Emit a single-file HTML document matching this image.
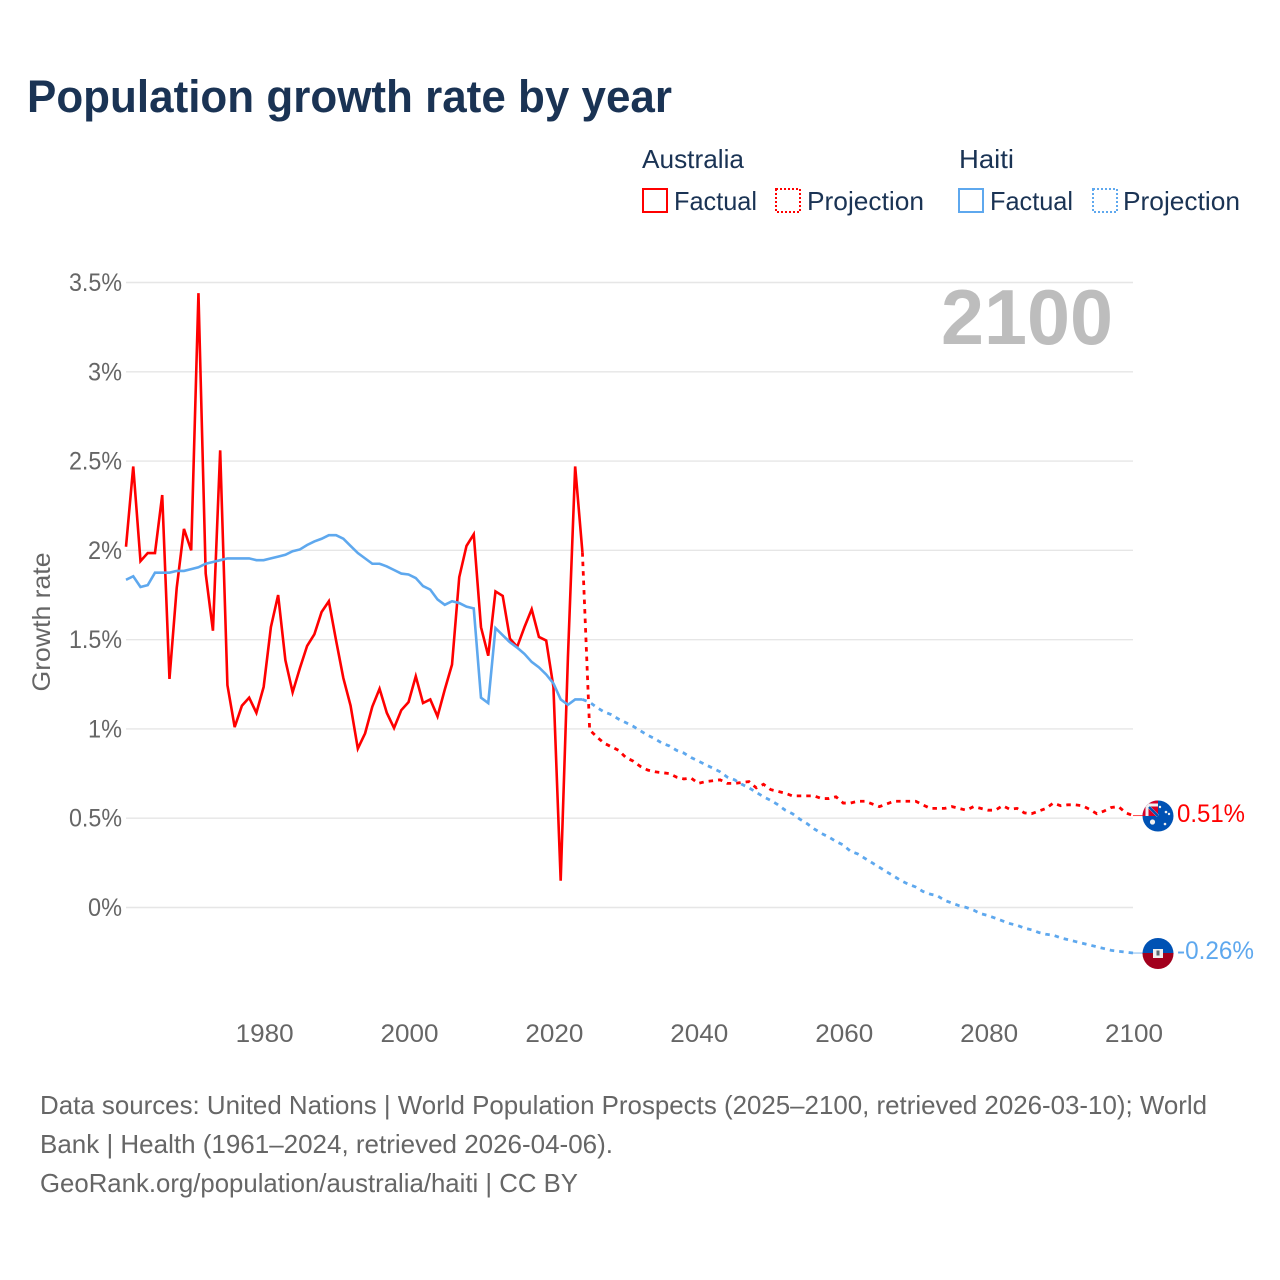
<!DOCTYPE html>
<html lang="en">
<head>
<meta charset="utf-8">
<title>Population growth rate by year</title>
<style>
  html, body { margin: 0; padding: 0; background: #fff; }
  svg { display: block; font-family: "Liberation Sans", sans-serif; }
</style>
</head>
<body>
<svg id="chart" xmlns="http://www.w3.org/2000/svg" width="1280" height="1280" viewBox="0 0 1280 1280">
  <rect x="0" y="0" width="1280" height="1280" fill="#ffffff"/>
  <text x="27" y="112" font-size="45" font-weight="bold" fill="#1a3354" textLength="645" lengthAdjust="spacingAndGlyphs">Population growth rate by year</text>

  <g font-size="26" fill="#1a3354">
    <text x="642" y="168" textLength="102" lengthAdjust="spacingAndGlyphs">Australia</text>
    <text x="959" y="168" textLength="55" lengthAdjust="spacingAndGlyphs">Haiti</text>
    <rect x="643" y="189" width="24" height="23" fill="none" stroke="#ff0000" stroke-width="2"/>
    <text x="674" y="210" textLength="83" lengthAdjust="spacingAndGlyphs">Factual</text>
    <rect x="776" y="189" width="24" height="23" fill="none" stroke="#ff0000" stroke-width="2" stroke-dasharray="2 2"/>
    <text x="807" y="210" textLength="117" lengthAdjust="spacingAndGlyphs">Projection</text>
    <rect x="959" y="189" width="24" height="23" fill="none" stroke="#5ea8ee" stroke-width="2"/>
    <text x="990" y="210" textLength="83" lengthAdjust="spacingAndGlyphs">Factual</text>
    <rect x="1093" y="189" width="24" height="23" fill="none" stroke="#5ea8ee" stroke-width="2" stroke-dasharray="2 2"/>
    <text x="1123" y="210" textLength="117" lengthAdjust="spacingAndGlyphs">Projection</text>
  </g>

  <g id="grid"></g>
  <g id="yticks"></g>
  <g id="xticks"></g>
  <text transform="translate(50,622) rotate(-90)" text-anchor="middle" font-size="25" fill="#666666" textLength="139" lengthAdjust="spacingAndGlyphs">Growth rate</text>
  <text x="941" y="344" font-size="78" font-weight="bold" fill="#bdbdbd" textLength="172" lengthAdjust="spacingAndGlyphs">2100</text>

  <g id="series"></g>

  <g>
    <clipPath id="clip-au"><circle cx="1158" cy="816" r="15.5"/></clipPath>
    <g clip-path="url(#clip-au)">
      <rect x="1142" y="800" width="32" height="32" fill="#0052b4"/>
      <rect x="1142" y="800" width="16" height="16" fill="#d80027"/>
      <path d="M1147 805 L1158 816 M1147 805 L1158 805 M1147 805 L1147 816" stroke="#f0f0f0" stroke-width="3" fill="none"/>
      <path d="M1149 807 L1158 816" stroke="#0052b4" stroke-width="2.5" fill="none"/>
      <circle cx="1152.5" cy="822" r="2.6" fill="#f0f0f0"/>
      <circle cx="1160" cy="807" r="1.2" fill="#f0f0f0"/>
      <circle cx="1166" cy="812" r="1.3" fill="#f0f0f0"/>
      <circle cx="1169" cy="814" r="1.2" fill="#f0f0f0"/>
      <circle cx="1165" cy="824" r="1.3" fill="#f0f0f0"/>
    </g>
  </g>
  <text x="1177" y="822" font-size="25" fill="#ff0000" textLength="68" lengthAdjust="spacingAndGlyphs">0.51%</text>

  <g>
    <clipPath id="clip-ht"><circle cx="1158" cy="953.5" r="15.5"/></clipPath>
    <g clip-path="url(#clip-ht)">
      <rect x="1142" y="937" width="32" height="17" fill="#0052b4"/>
      <rect x="1142" y="953" width="32" height="17" fill="#a2001d"/>
      <rect x="1153" y="949" width="10" height="9" fill="#f0f0f0"/>
      <rect x="1156.5" y="950.5" width="3" height="5" fill="#5a6a72"/>
    </g>
  </g>
  <text x="1177" y="959" font-size="25" fill="#5ea8ee" textLength="77" lengthAdjust="spacingAndGlyphs">-0.26%</text>

  <g font-size="26" fill="#666666">
    <text x="40" y="1114" textLength="1167" lengthAdjust="spacingAndGlyphs">Data sources: United Nations | World Population Prospects (2025–2100, retrieved 2026-03-10); World</text>
    <text x="40" y="1153" textLength="573" lengthAdjust="spacingAndGlyphs">Bank | Health (1961–2024, retrieved 2026-04-06).</text>
    <text x="40" y="1192" textLength="538" lengthAdjust="spacingAndGlyphs">GeoRank.org/population/australia/haiti | CC BY</text>
  </g>
</svg>

<script>
const australiaFactual = [
  2.02,2.47,1.94,1.985,1.985,2.31,1.28,1.79,2.12,2.0,
  3.44,1.87,1.55,2.56,1.245,1.01,1.13,1.175,1.09,1.235,
  1.57,1.75,1.385,1.205,1.34,1.465,1.53,1.655,1.715,1.495,
  1.285,1.13,0.89,0.975,1.125,1.225,1.09,1.005,1.105,1.15,
  1.295,1.145,1.165,1.07,1.22,1.36,1.85,2.025,2.09,1.57,
  1.41,1.77,1.745,1.505,1.46,1.57,1.67,1.515,1.495,1.235,
  0.15,1.4,2.47,1.99
];
const australiaProjection = [
  1.99,0.995,0.955,0.92,0.9,0.88,0.84,0.82,0.79,0.77,0.76,
  0.755,0.75,0.73,0.72,0.725,0.695,0.705,0.71,0.715,0.695,
  0.695,0.7,0.705,0.67,0.69,0.66,0.65,0.64,0.625,0.625,
  0.625,0.625,0.61,0.61,0.62,0.585,0.585,0.595,0.595,0.58,
  0.565,0.58,0.595,0.595,0.595,0.595,0.575,0.555,0.555,0.555,
  0.565,0.555,0.545,0.565,0.555,0.545,0.545,0.57,0.55,0.555,
  0.53,0.525,0.54,0.555,0.585,0.57,0.575,0.575,0.57,0.55,
  0.525,0.54,0.56,0.565,0.53,0.515
];
const haitiFactual = [
  1.835,1.855,1.795,1.805,1.875,1.875,1.875,1.885,1.885,1.895,
  1.905,1.925,1.935,1.945,1.955,1.955,1.955,1.955,1.945,1.945,
  1.955,1.965,1.975,1.995,2.005,2.03,2.05,2.065,2.085,2.085,
  2.065,2.025,1.985,1.955,1.925,1.925,1.91,1.89,1.87,1.865,
  1.845,1.8,1.78,1.725,1.695,1.715,1.705,1.685,1.675,1.175,
  1.145,1.565,1.525,1.485,1.455,1.42,1.375,1.345,1.305,1.255,
  1.165,1.135,1.165,1.165
];
const haitiProjection = [
  1.165,1.15,1.12,1.095,1.08,1.055,1.035,1.015,0.99,0.965,0.945,
  0.92,0.905,0.88,0.865,0.84,0.82,0.8,0.78,0.76,0.73,
  0.715,0.69,0.67,0.645,0.62,0.6,0.575,0.545,0.525,0.495,
  0.47,0.44,0.415,0.395,0.37,0.35,0.315,0.3,0.275,0.25,
  0.225,0.2,0.175,0.15,0.13,0.115,0.09,0.075,0.065,0.04,
  0.025,0.01,0,-0.015,-0.035,-0.045,-0.06,-0.075,-0.09,-0.1,
  -0.115,-0.125,-0.14,-0.15,-0.155,-0.17,-0.18,-0.19,-0.2,-0.21,
  -0.22,-0.23,-0.24,-0.245,-0.25,-0.255
];
const xTickYears = [1980, 2000, 2020, 2040, 2060, 2080, 2100];
const yTickValues = [0, 0.5, 1, 1.5, 2, 2.5, 3, 3.5];
const yTickLabels = ["0%", "0.5%", "1%", "1.5%", "2%", "2.5%", "3%", "3.5%"];

const SVG_NS = "http://www.w3.org/2000/svg";
const factualStartYear = 1961;
const projectionStartYear = 2024;
const xScale = year => 126 + (year - 1961) * (1007 / 139);
const yScale = pct => 907.5 - pct * (625 / 3.5);

const gridGroup = document.getElementById("grid");
const yTickGroup = document.getElementById("yticks");
const xTickGroup = document.getElementById("xticks");
const seriesGroup = document.getElementById("series");

yTickValues.forEach((value, i) => {
  const line = document.createElementNS(SVG_NS, "line");
  
  
  line.setAttribute("x1", 126);
  line.setAttribute("x2", 1133);
  line.setAttribute("y1", yScale(value));
  line.setAttribute("y2", yScale(value));
  line.setAttribute("stroke", "#e6e6e6");
  line.setAttribute("stroke-width", "1.4");
  gridGroup.appendChild(line);

  const label = document.createElementNS(SVG_NS, "text");
  
  
  label.setAttribute("x", 122);
  label.setAttribute("y", yScale(value) + 8.5);
  label.setAttribute("text-anchor", "end");
  label.setAttribute("font-size", "25");
  label.setAttribute("fill", "#666666");
  label.setAttribute("textLength", yTickLabels[i].length > 2 ? 53 : 34);
  label.setAttribute("lengthAdjust", "spacingAndGlyphs");
  label.textContent = yTickLabels[i];
  yTickGroup.appendChild(label);
});

xTickYears.forEach(year => {
  const label = document.createElementNS(SVG_NS, "text");
  
  
  label.setAttribute("x", xScale(year) + 1);
  label.setAttribute("y", 1042);
  label.setAttribute("text-anchor", "middle");
  label.setAttribute("font-size", "25");
  label.setAttribute("fill", "#666666");
  label.setAttribute("textLength", 58);
  label.setAttribute("lengthAdjust", "spacingAndGlyphs");
  label.textContent = String(year);
  xTickGroup.appendChild(label);
});

function pointsFor(values, startYear) {
  return values.map((v, i) => xScale(startYear + i).toFixed(2) + "," + yScale(v).toFixed(2)).join(" ");
}

const australiaFactualLine = document.createElementNS(SVG_NS, "polyline");


australiaFactualLine.setAttribute("points", pointsFor(australiaFactual, factualStartYear));
australiaFactualLine.setAttribute("fill", "none");
australiaFactualLine.setAttribute("stroke", "#ff0000");
australiaFactualLine.setAttribute("stroke-width", "2.6");
seriesGroup.appendChild(australiaFactualLine);

const australiaProjectionLine = document.createElementNS(SVG_NS, "polyline");


australiaProjectionLine.setAttribute("points", pointsFor(australiaProjection, projectionStartYear));
australiaProjectionLine.setAttribute("fill", "none");
australiaProjectionLine.setAttribute("stroke", "#ff0000");
australiaProjectionLine.setAttribute("stroke-width", "2.8");
australiaProjectionLine.setAttribute("stroke-dasharray", "4.5 5");
seriesGroup.appendChild(australiaProjectionLine);

const haitiFactualLine = document.createElementNS(SVG_NS, "polyline");


haitiFactualLine.setAttribute("points", pointsFor(haitiFactual, factualStartYear));
haitiFactualLine.setAttribute("fill", "none");
haitiFactualLine.setAttribute("stroke", "#5ea8ee");
haitiFactualLine.setAttribute("stroke-width", "2.6");
seriesGroup.appendChild(haitiFactualLine);

const haitiProjectionLine = document.createElementNS(SVG_NS, "polyline");


haitiProjectionLine.setAttribute("points", pointsFor(haitiProjection, projectionStartYear));
haitiProjectionLine.setAttribute("fill", "none");
haitiProjectionLine.setAttribute("stroke", "#5ea8ee");
haitiProjectionLine.setAttribute("stroke-width", "2.8");
haitiProjectionLine.setAttribute("stroke-dasharray", "4.5 5");
seriesGroup.appendChild(haitiProjectionLine);

const australiaLeader = document.createElementNS(SVG_NS, "line");


australiaLeader.setAttribute("x1", xScale(2100));
australiaLeader.setAttribute("x2", 1143);
australiaLeader.setAttribute("y1", yScale(australiaProjection[australiaProjection.length - 1]));
australiaLeader.setAttribute("y2", yScale(australiaProjection[australiaProjection.length - 1]));
australiaLeader.setAttribute("stroke", "#ff0000");
australiaLeader.setAttribute("stroke-opacity", "0.7");
australiaLeader.setAttribute("stroke-width", "1");
seriesGroup.appendChild(australiaLeader);

const haitiLeader = document.createElementNS(SVG_NS, "line");


haitiLeader.setAttribute("x1", xScale(2100));
haitiLeader.setAttribute("x2", 1143);
haitiLeader.setAttribute("y1", yScale(haitiProjection[haitiProjection.length - 1]));
haitiLeader.setAttribute("y2", yScale(haitiProjection[haitiProjection.length - 1]));
haitiLeader.setAttribute("stroke", "#5ea8ee");
haitiLeader.setAttribute("stroke-opacity", "0.8");
haitiLeader.setAttribute("stroke-width", "1");
seriesGroup.appendChild(haitiLeader);
</script>
</body>
</html>
